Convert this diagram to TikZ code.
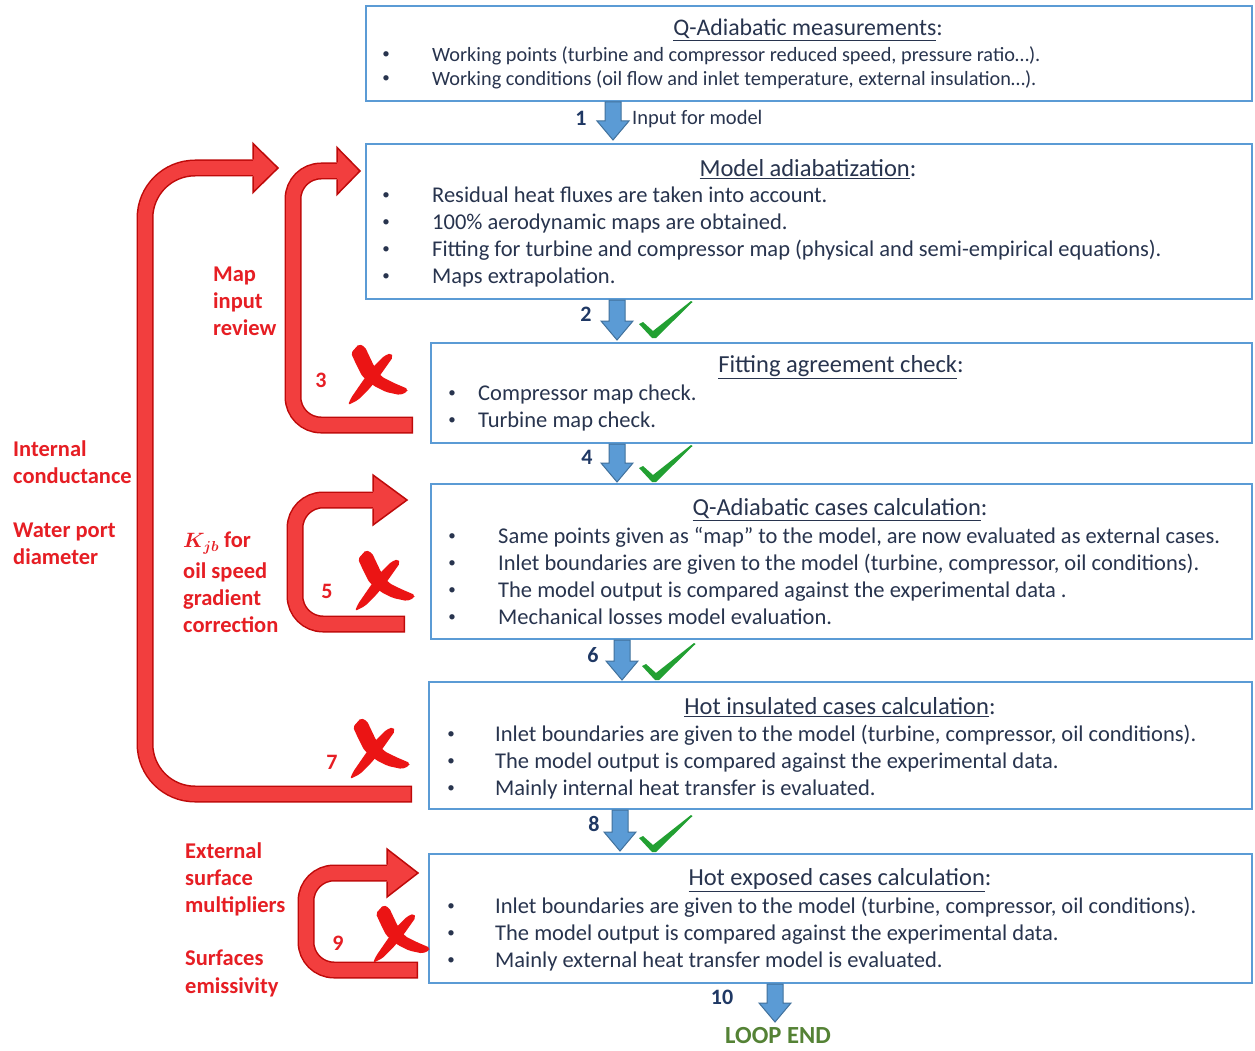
\documentclass[tikz,border=0pt]{standalone}
\usepackage{fontspec}
\setmainfont{Carlito}
\usetikzlibrary{calc}
\definecolor{boxc}{RGB}{91,155,213}
\definecolor{txtc}{RGB}{40,52,78}
\definecolor{barf}{RGB}{91,155,213}
\definecolor{bare}{RGB}{65,113,156}
\definecolor{rfill}{RGB}{242,62,62}
\definecolor{redge}{RGB}{190,10,10}
\definecolor{rtxt}{RGB}{230,30,36}
\definecolor{xred}{RGB}{235,20,20}
\definecolor{chk}{RGB}{34,160,50}
\definecolor{loopc}{RGB}{84,130,53}
\definecolor{numc}{RGB}{31,56,100}
\newcommand\blockarrow[2]{%
  \fill[barf, draw=bare, line width=1]
    ($#1+(-8,0)$) -- ($#2+(-8,-19)$) -- ($#2+(-16,-19)$) -- #2 --
    ($#2+(16,-19)$) -- ($#2+(8,-19)$) -- ($#1+(8,0)$) -- cycle;}
\begin{document}
\begin{tikzpicture}[x=1pt,y=-1pt,
  box/.style={draw=boxc, line width=2, fill=white, inner sep=0, anchor=north west},
  ttl/.style={text=txtc, font=\fontsize{24.5}{28}\selectfont, inner sep=0, yshift=-2},
  bl/.style={text=txtc, anchor=mid west, inner sep=0, yshift=-5.5},
  bul/.style={text=txtc, inner sep=0, font=\fontsize{15}{18}\selectfont, yshift=-1},
  fa/.style={font=\fontsize{20.3}{24}\selectfont},
  fb/.style={font=\fontsize{22.5}{26}\selectfont},
  rlab/.style={text=rtxt, font=\bfseries\fontsize{22.5}{26}\selectfont, anchor=mid west, inner sep=0, yshift=-5.5},
  bnum/.style={text=numc, font=\bfseries\fontsize{22}{26}\selectfont, inner sep=0},
  rnum/.style={text=rtxt, font=\bfseries\fontsize{22}{26}\selectfont, inner sep=0},
  redx/.pic={
     \fill[xred, rounded corners=2] (3,9) -- (11,0) -- (17,3) -- (26,22) -- (34,33)
        -- (46,39) -- (60,45) -- (59,48) -- (52,51) -- (38,48) -- (26,42) -- (14,32) -- (8,20) -- cycle;
     \fill[xred, rounded corners=2] (36,12) -- (43,9) -- (45,13) -- (33,30) -- (22,44)
        -- (10,56) -- (0,61) -- (3,54) -- (14,38) -- (24,24) -- cycle;},
  chkm/.pic={\fill[chk] (-14,-14) -- (-10,-16) -- (0,-7) -- (38,-37) -- (39.5,-36)
     -- (3,0) -- (-1,0) -- cycle;},
  rband/.style={draw=redge, line width=17},
  rinner/.style={draw=rfill, line width=14},
  rhead/.style={fill=rfill, draw=redge, line width=1.5, line join=miter}
]
\useasboundingbox (0,0) rectangle (1255,1051);
\fill[white] (0,0) rectangle (1255,1051);

% ---------------- red feedback loops (drawn first) ----------------
% loop 7 (big)
\coordinate (r7t) at (412,794); \coordinate (r7c1) at (145,794);
\coordinate (r7c2) at (145,168); \coordinate (r7h) at (253,168);
\draw[rband, rounded corners=50] (r7t) -- (r7c1) -- (r7c2) -- (r7h);
\draw[rinner, rounded corners=50, shorten <=1.5] (r7t) -- (r7c1) -- (r7c2) -- ($(r7h)+(1,0)$);
\filldraw[rhead] ($(r7h)+(0,-8.5)$) -- ($(r7h)+(0,-24.5)$) -- ($(r7h)+(25,0)$) -- ($(r7h)+(0,24.5)$) -- ($(r7h)+(0,8.5)$);
% loop 3
\coordinate (r3t) at (413,425); \coordinate (r3c1) at (293,425);
\coordinate (r3c2) at (293,171); \coordinate (r3h) at (337,171);
\draw[rband, rounded corners=28] (r3t) -- (r3c1) -- (r3c2) -- (r3h);
\draw[rinner, rounded corners=28, shorten <=1.5] (r3t) -- (r3c1) -- (r3c2) -- ($(r3h)+(1,0)$);
\filldraw[rhead] ($(r3h)+(0,-8.5)$) -- ($(r3h)+(0,-23.5)$) -- ($(r3h)+(23,0)$) -- ($(r3h)+(0,23.5)$) -- ($(r3h)+(0,8.5)$);
% loop 5
\coordinate (r5t) at (405,624); \coordinate (r5c1) at (295,624);
\coordinate (r5c2) at (295,500); \coordinate (r5h) at (373,500);
\draw[rband, rounded corners=28] (r5t) -- (r5c1) -- (r5c2) -- (r5h);
\draw[rinner, rounded corners=28, shorten <=1.5] (r5t) -- (r5c1) -- (r5c2) -- ($(r5h)+(1,0)$);
\filldraw[rhead] ($(r5h)+(0,-8.5)$) -- ($(r5h)+(0,-25)$) -- ($(r5h)+(34,0)$) -- ($(r5h)+(0,25)$) -- ($(r5h)+(0,8.5)$);
% loop 9
\coordinate (r9t) at (418,970); \coordinate (r9c1) at (306,970);
\coordinate (r9c2) at (306,873); \coordinate (r9h) at (387,873);
\draw[rband, rounded corners=28] (r9t) -- (r9c1) -- (r9c2) -- (r9h);
\draw[rinner, rounded corners=28, shorten <=1.5] (r9t) -- (r9c1) -- (r9c2) -- ($(r9h)+(1,0)$);
\filldraw[rhead] ($(r9h)+(0,-8.5)$) -- ($(r9h)+(0,-24)$) -- ($(r9h)+(31,0)$) -- ($(r9h)+(0,24)$) -- ($(r9h)+(0,8.5)$);

% ---------------- boxes ----------------
\node[box, minimum width=886, minimum height=95] (b1) at (365,5) {};
\node[box, minimum width=886, minimum height=155] (b2) at (365,143) {};
\node[box, minimum width=821, minimum height=100] (b3) at (430,342) {};
\node[box, minimum width=821, minimum height=155] (b4) at (430,483) {};
\node[box, minimum width=823, minimum height=127] (b5) at (428,681) {};
\node[box, minimum width=823, minimum height=129] (b6) at (428,853) {};

% box 1
\node[ttl, font=\fontsize{23.8}{28}\selectfont] (t1) at (808,28) {\underline{Q-Adiabatic measurements}:};
\node[bul] (u11) at (386,54) {•};
\node[bl, fa] (l11) at (432,54) {Working points (turbine and compressor reduced speed, pressure ratio…).};
\node[bul] (u12) at (386,78) {•};
\node[bl, fa] (l12) at (432,78) {Working conditions (oil flow and inlet temperature, external insulation…).};
% box 2
\node[ttl] (t2) at (808,167) {\underline{Model adiabatization}:};
\node[bul] (u21) at (386,195) {•};
\node[bl, fb] (l21) at (432,195) {Residual heat fluxes are taken into account.};
\node[bul] (u22) at (386,222) {•};
\node[bl, fb] (l22) at (432,222) {100\% aerodynamic maps are obtained.};
\node[bul] (u23) at (386,249) {•};
\node[bl, fb] (l23) at (432,249) {Fitting for turbine and compressor map (physical and semi-empirical equations).};
\node[bul] (u24) at (386,276) {•};
\node[bl, fb] (l24) at (432,276) {Maps extrapolation.};
% box 3
\node[ttl] (t3) at (841,365) {\underline{Fitting agreement check}:};
\node[bul] (u31) at (452,393) {•};
\node[bl, fb] (l31) at (478,393) {Compressor map check.};
\node[bul] (u32) at (452,420) {•};
\node[bl, fb] (l32) at (478,420) {Turbine map check.};
% box 4
\node[ttl] (t4) at (840,508) {\underline{Q-Adiabatic cases calculation}:};
\node[bul] (u41) at (452,536) {•};
\node[bl, fb] (l41) at (498,536) {Same points given as “map” to the model, are now evaluated as external cases.};
\node[bul] (u42) at (452,563) {•};
\node[bl, fb] (l42) at (498,563) {Inlet boundaries are given to the model (turbine, compressor, oil conditions).};
\node[bul] (u43) at (452,590) {•};
\node[bl, fb] (l43) at (498,590) {The model output is compared against the experimental data .};
\node[bul] (u44) at (452,617) {•};
\node[bl, fb] (l44) at (498,617) {Mechanical losses model evaluation.};
% box 5
\node[ttl] (t5) at (840,705) {\underline{Hot insulated cases calculation}:};
\node[bul] (u51) at (451,734) {•};
\node[bl, fb] (l51) at (495,734) {Inlet boundaries are given to the model (turbine, compressor, oil conditions).};
\node[bul] (u52) at (451,761) {•};
\node[bl, fb] (l52) at (495,761) {The model output is compared against the experimental data.};
\node[bul] (u53) at (451,788) {•};
\node[bl, fb] (l53) at (495,788) {Mainly internal heat transfer is evaluated.};
% box 6
\node[ttl] (t6) at (840,878) {\underline{Hot exposed cases calculation}:};
\node[bul] (u61) at (451,906) {•};
\node[bl, fb] (l61) at (495,906) {Inlet boundaries are given to the model (turbine, compressor, oil conditions).};
\node[bul] (u62) at (451,933) {•};
\node[bl, fb] (l62) at (495,933) {The model output is compared against the experimental data.};
\node[bul] (u63) at (451,960) {•};
\node[bl, fb] (l63) at (495,960) {Mainly external heat transfer model is evaluated.};

% ---------------- blue arrows ----------------
\coordinate (a1s) at (b1.south -| 613,0); \coordinate (a1e) at (613,140);
\blockarrow{(a1s)}{(a1e)}
\coordinate (a2s) at (b2.south -| 617,0); \coordinate (a2e) at (617,340);
\blockarrow{(a2s)}{(a2e)}
\coordinate (a4s) at (b3.south -| 617,0); \coordinate (a4e) at (617,482);
\blockarrow{(a4s)}{(a4e)}
\coordinate (a6s) at (b4.south -| 622,0); \coordinate (a6e) at (622,680);
\blockarrow{(a6s)}{(a6e)}
\coordinate (a8s) at (b5.south -| 620,0); \coordinate (a8e) at (620,851);
\blockarrow{(a8s)}{(a8e)}
\coordinate (a10s) at (b6.south -| 775,0); \coordinate (a10e) at (775,1022);
\blockarrow{(a10s)}{(a10e)}

\node[bl, font=\fontsize{20.5}{24}\selectfont] (inp) at (632,117) {Input for model};
\node[bnum] (n1) at (581,118) {1};
\node[bnum] (n2) at (586,314) {2};
\node[bnum] (n4) at (587,457) {4};
\node[bnum] (n6) at (593,655) {6};
\node[bnum] (n8) at (594,824) {8};
\node[bnum] (n10) at (722,997) {10};
\node[text=loopc, font=\bfseries\fontsize{24.6}{28}\selectfont, inner sep=0] (loop) at (778,1036) {LOOP END};

% checks
\pic (c2) at (653,338) {chkm};
\pic (c4) at (653,482) {chkm};
\pic (c6) at (656,680) {chkm};
\pic (c8) at (653,852) {chkm};

% red X marks
\pic (x3) at (348,344) {redx};
\pic (x5) at (355,550) {redx};
\pic (x7) at (350,718) {redx};
\pic[scale=0.95] (x9) at (373,905) {redx};

\node[rnum] (n3) at (321,380) {3};
\node[rnum] (n5) at (327,591) {5};
\node[rnum] (n7) at (332,762) {7};
\node[rnum] (n9) at (338,943) {9};

% red labels
\node[rlab] (m1) at (213,274) {Map};
\node[rlab] (m2) at (213,301) {input};
\node[rlab] (m3) at (213,328) {review};
\node[rlab] (ic1) at (13,449) {Internal};
\node[rlab] (ic2) at (13,476) {conductance};
\node[rlab] (wp1) at (13,530) {Water port};
\node[rlab] (wp2) at (13,557) {diameter};
\node[rlab] (k1) at (183,540) {{\boldmath$K_{jb}$} for};
\node[rlab] (k2) at (183,571) {oil speed};
\node[rlab] (k3) at (183,598) {gradient};
\node[rlab] (k4) at (183,625) {correction};
\node[rlab] (e1) at (185,851) {External};
\node[rlab] (e2) at (185,878) {surface};
\node[rlab] (e3) at (185,905) {multipliers};
\node[rlab] (s1) at (185,958) {Surfaces};
\node[rlab] (s2) at (185,986) {emissivity};
\end{tikzpicture}
\end{document}
